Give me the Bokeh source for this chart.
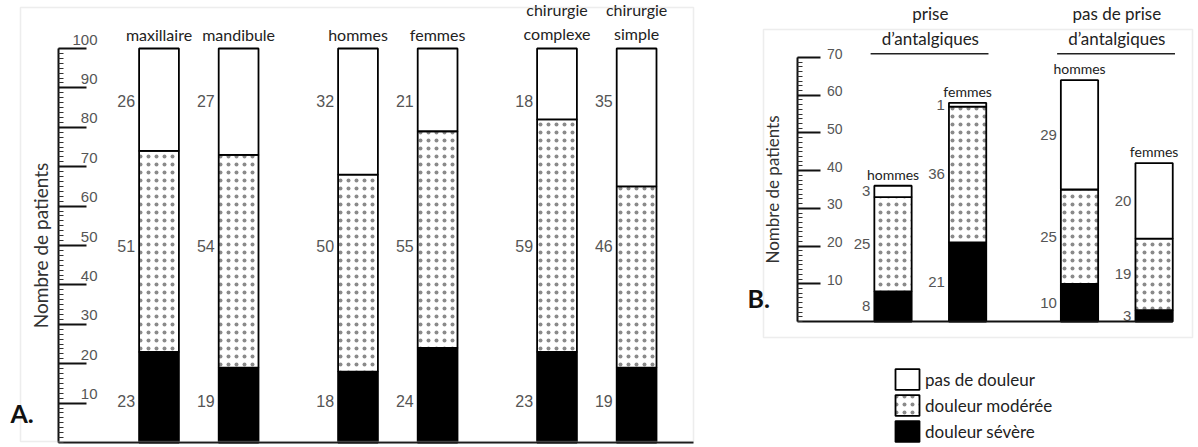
from bokeh.plotting import figure
from bokeh.models import (ColumnDataSource, FixedTicker, BoxAnnotation, Label,
                          Legend, LegendItem, Range1d, LinearAxis)
from bokeh.layouts import row
from bokeh.embed import file_html
from bokeh.resources import INLINE
from bokeh.core.properties import value

# ---------------- data ----------------
A_CATEGORIES = ["maxillaire", "mandibule", "hommes", "femmes",
                "chirurgie\ncomplexe", "chirurgie\nsimple"]
A_GROUPS = [0, 0, 1, 1, 2, 2]
A_SEVERE = [23, 19, 18, 24, 23, 19]
A_MODERATE = [51, 54, 50, 55, 59, 46]
A_NONE = [26, 27, 32, 21, 18, 35]
A_TICKS = [10, 20, 30, 40, 50, 60, 70, 80, 90, 100]

B_GROUP_TITLES = ["prise\nd’antalgiques", "pas de prise\nd’antalgiques"]
B_CATEGORIES = ["hommes", "femmes", "hommes", "femmes"]
B_GROUPS = [0, 0, 1, 1]
B_SEVERE = [8, 21, 10, 3]
B_MODERATE = [25, 36, 25, 19]
B_NONE = [3, 1, 29, 20]
B_TICKS = [10, 20, 30, 40, 50, 60, 70]

LEGEND_LABELS = ["douleur sévère", "douleur modérée", "pas de douleur"]  # bottom -> top
AXIS_TITLE = "Nombre de patients"

# ---------------- style / layout ----------------
FONT = "Lato"
NUM_FONT = "Liberation Sans"
BAR_W = 0.5
GREY = "#555555"
BOX = "#c4c4c4"
H = 447


class Mapper:
    """canvas pixel -> data helper, used only for decorations"""
    def __init__(self, x_origin_px, unit_x, y_zero_px, unit_y):
        self.x0, self.ux, self.y0, self.uy = x_origin_px, unit_x, y_zero_px, unit_y

    def x(self, px):
        return (px - self.x0) / self.ux

    def y(self, py):
        return (self.y0 - py) / self.uy


def positions(groups):
    return [i + 0.5 * g for i, g in enumerate(groups)]


def base_fig(width, m):
    p = figure(width=width, height=H,
               x_range=Range1d(m.x(0), m.x(width)), y_range=Range1d(m.y(H), m.y(0)),
               output_backend="svg", toolbar_location=None,
               min_border_left=0, min_border_right=0,
               min_border_top=0, min_border_bottom=0)
    p.outline_line_color = None
    p.grid.visible = False
    p.background_fill_color = "white"
    p.border_fill_color = "white"
    xa = p.xaxis[0]
    xa.ticker = FixedTicker(ticks=[])
    xa.fixed_location = 0
    xa.axis_line_color = "#111111"
    xa.axis_line_width = 2
    xa.major_tick_line_color = None
    xa.minor_tick_line_color = None
    return p


def style_yaxis(p, m, axis_px, ticks, tick_in, label_right_px, label_lift_px,
                label_size, title_size, title_standoff):
    axis_x = m.x(axis_px)
    minor = [k * 1.25 for k in range(int(ticks[-1] / 1.25) + 1)]

    # axis line + small ticks + title
    ax = p.yaxis[0]
    ax.fixed_location = axis_x
    ax.ticker = FixedTicker(ticks=[], minor_ticks=minor)
    ax.bounds = (0, ticks[-1])
    ax.axis_line_color = "#111111"
    ax.axis_line_width = 2
    ax.minor_tick_in = 5
    ax.minor_tick_out = 0
    ax.minor_tick_line_color = "#333333"
    ax.minor_tick_line_width = 1.2
    ax.axis_label = AXIS_TITLE
    ax.axis_label_text_font = FONT
    ax.axis_label_text_font_style = "normal"
    ax.axis_label_text_font_size = title_size
    ax.axis_label_text_color = "#333333"
    ax.axis_label_standoff = title_standoff

    # long tick lines every 10
    lt = LinearAxis(fixed_location=axis_x, ticker=FixedTicker(ticks=[], minor_ticks=ticks))
    lt.axis_line_color = None
    lt.minor_tick_in = tick_in
    lt.minor_tick_out = 0
    lt.minor_tick_line_color = "#111111"
    lt.minor_tick_line_width = 2
    p.add_layout(lt, "left")

    # tick labels: drawn slightly above the tick lines, right of the axis
    d = label_lift_px / m.uy
    p.extra_y_ranges = {"lab": Range1d(p.y_range.start - d, p.y_range.end - d)}
    la = LinearAxis(y_range_name="lab", fixed_location=axis_x,
                    ticker=FixedTicker(ticks=ticks, minor_ticks=[]))
    la.axis_line_color = None
    la.major_tick_line_color = None
    la.minor_tick_line_color = None
    la.major_tick_out = 0
    la.major_tick_in = 0
    la.major_label_standoff = -label_right_px
    la.major_label_text_font = NUM_FONT
    la.major_label_text_font_size = label_size
    la.major_label_text_color = GREY
    p.add_layout(la, "left")
    return axis_x


def bars(p, pos, sev, mod, non):
    src = ColumnDataSource(dict(x=pos, sev=sev, mod=mod, non=non))
    return p.vbar_stack(["sev", "mod", "non"], x="x", width=BAR_W, source=src,
                        fill_color=["black", "white", "white"],
                        line_color="black", line_width=1.8,
                        hatch_pattern=[" ", ".", " "], hatch_color="#8a8a8a",
                        hatch_scale=8, hatch_weight=0.5)


def segment_mids(sev, mod, non):
    m1 = [s / 2 for s in sev]
    m2 = [s + m / 2 for s, m in zip(sev, mod)]
    m3 = [s + m + n / 2 for s, m, n in zip(sev, mod, non)]
    return m1, m2, m3


def add_numbers(p, pos, layers_vals, layers_y, size):
    xs, ys, ts = [], [], []
    for vals, yy in zip(layers_vals, layers_y):
        for x, v, y in zip(pos, vals, yy):
            xs.append(x - BAR_W / 2)
            ys.append(y)
            ts.append(str(v))
    p.text(x=xs, y=ys, text=ts, text_align="right", text_baseline="middle",
           x_offset=-4, text_font=value(NUM_FONT), text_font_size=size,
           text_color=GREY)


def frame_box(p, m, l, r, t, b):
    p.add_layout(BoxAnnotation(left=m.x(l), right=m.x(r), top=m.y(t), bottom=m.y(b),
                               fill_alpha=0, line_color=BOX, line_width=1.5))


def panel_letter(p, m, text, px, py):
    p.add_layout(Label(x=m.x(px), y=m.y(py), text=text, text_font=FONT,
                       text_font_style="bold", text_font_size="25px",
                       text_baseline="middle", text_color="#111111"))


# ================= Panel A =================
WA = 700
posA = positions(A_GROUPS)
mA = Mapper(x_origin_px=158.5, unit_x=79.6, y_zero_px=442, unit_y=3.94)
figA = base_fig(WA, mA)
axA = style_yaxis(figA, mA, 58, A_TICKS, 28, 39, 9, "15px", "19px", 7)
figA.xaxis[0].bounds = (axA, mA.x(693))
bars(figA, posA, A_SEVERE, A_MODERATE, A_NONE)

# numbers of panel A are aligned in three rows
totA = [s + m + n for s, m, n in zip(A_SEVERE, A_MODERATE, A_NONE)]
low, _, high = segment_mids(A_SEVERE, A_MODERATE, A_NONE)
n = len(totA)
rowsA = [[sum(low) / n] * n, [sum(totA) / n / 2] * n, [sum(high) / n] * n]
add_numbers(figA, posA, [A_SEVERE, A_MODERATE, A_NONE], rowsA, "16px")

figA.text(x=posA, y=totA, text=A_CATEGORIES, text_align="center",
          text_baseline="bottom", y_offset=-5, text_font=value(FONT),
          text_font_size="16px", text_line_height=1.3, text_color="#222222")

frame_box(figA, mA, 20, 693, 7, 441)
panel_letter(figA, mA, "A.", 10, 412)

# ================= Panel B =================
WB = 498
posB = positions(B_GROUPS)
mB = Mapper(x_origin_px=192.5, unit_x=74.6, y_zero_px=321, unit_y=3.771)
figB = base_fig(WB, mB)
axB = style_yaxis(figB, mB, 97, B_TICKS, 23, 45, 4, "14px", "17px", 15)
figB.xaxis[0].bounds = (axB, posB[-1] + BAR_W / 2)
rB = bars(figB, posB, B_SEVERE, B_MODERATE, B_NONE)

add_numbers(figB, posB, [B_SEVERE, B_MODERATE, B_NONE],
            segment_mids(B_SEVERE, B_MODERATE, B_NONE), "15px")

totB = [s + m + n for s, m, n in zip(B_SEVERE, B_MODERATE, B_NONE)]
figB.text(x=posB, y=totB, text=B_CATEGORIES, text_align="center",
          text_baseline="bottom", y_offset=-3, text_font=value(FONT),
          text_font_size="14px", text_color="#222222")

gx, gx0, gx1 = [], [], []
for g in sorted(set(B_GROUPS)):
    members = [x for x, gg in zip(posB, B_GROUPS) if gg == g]
    gx.append(sum(members) / len(members))
    gx0.append(min(members) - 0.3)
    gx1.append(max(members) + 0.28)
top_line = B_TICKS[-1] + 1
figB.segment(x0=gx0, x1=gx1, y0=[top_line] * len(gx), y1=[top_line] * len(gx),
             line_color="#222222", line_width=1.6)
figB.text(x=gx, y=[top_line] * len(gx), text=B_GROUP_TITLES, text_align="center",
          text_baseline="bottom", y_offset=-5, text_font=value(FONT),
          text_font_size="17px", text_line_height=1.2, text_color="#222222")

frame_box(figB, mB, 63, 492, 29, 337)
panel_letter(figB, mB, "B.", 47, 297)

items = [LegendItem(label=lab, renderers=[r]) for lab, r in zip(LEGEND_LABELS, rB)][::-1]
legend = Legend(items=items, location=(192, 3), orientation="vertical",
                glyph_width=30, glyph_height=26, label_height=26, spacing=0,
                padding=0, margin=0, border_line_color=None,
                background_fill_alpha=0, label_text_font=FONT,
                label_text_font_size="17px", label_standoff=3,
                label_text_color="#222222")
figB.add_layout(legend)

layout = row(figA, figB)
open("out.html", "w").write(file_html(layout, INLINE))
